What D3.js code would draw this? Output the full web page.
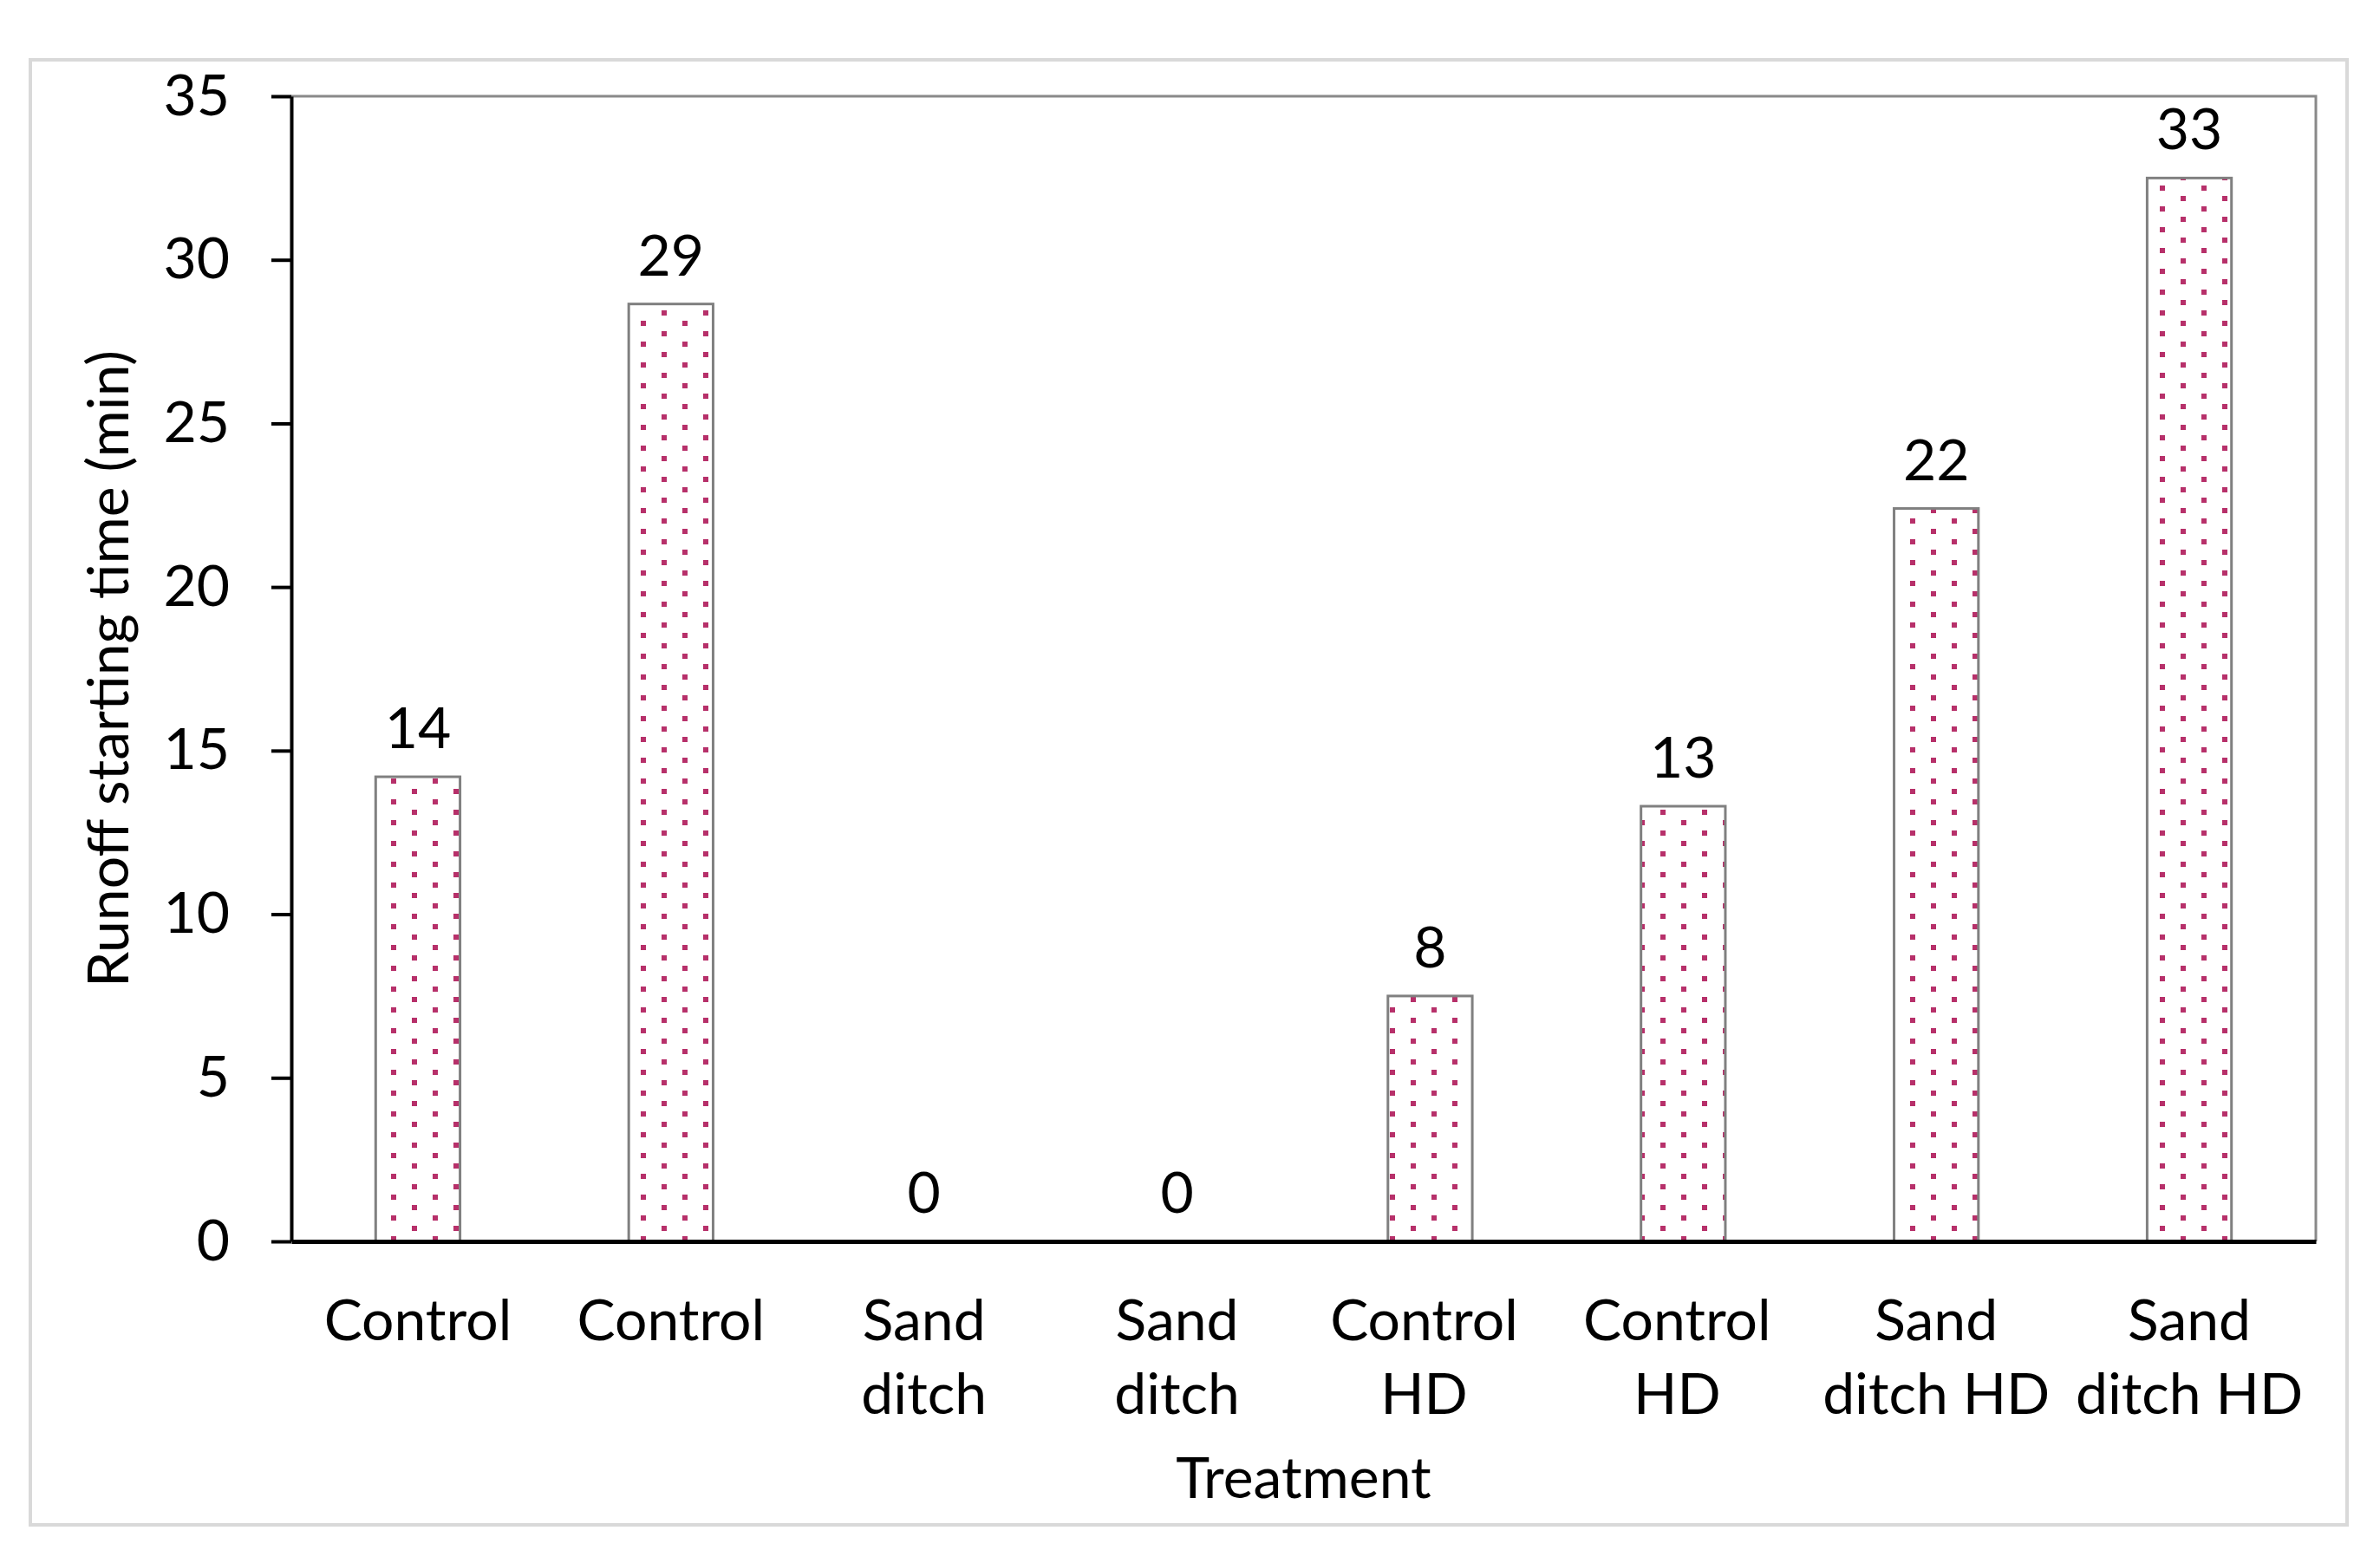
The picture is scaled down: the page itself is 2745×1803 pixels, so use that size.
<!DOCTYPE html>
<html>
<head>
<meta charset="utf-8">
<script src="https://cdn.jsdelivr.net/npm/d3@7"></script>
<style>
body { margin: 0; background: #fff; }
svg text { font-family: Lato, "Open Sans", sans-serif; fill: #000; }
</style>
</head>
<body>
<svg id="chart" width="2745" height="1803"></svg>
<script>
// ---- data ----
const categoryLines = [
  ["Control"], ["Control"], ["Sand", "ditch"], ["Sand", "ditch"],
  ["Control", "HD"], ["Control", "HD"], ["Sand", "ditch HD"], ["Sand", "ditch HD"]
];
const values = [14.2, 28.65, 0, 0, 7.5, 13.3, 22.4, 32.5];
const valueLabels = ["14", "29", "0", "0", "8", "13", "22", "33"];
const yTicks = [0, 5, 10, 15, 20, 25, 30, 35];
const yTitle = "Runoff starting time (min)";
const xTitle = "Treatment";

// ---- layout ----
const W = 2745, H = 1803;
const plot = { left: 336, right: 2671, top: 111, bottom: 1432 };
const fontSize = 66;

const svg = d3.select("#chart");

// outer frame
svg.append("rect")
  .attr("x", 35).attr("y", 69).attr("width", 2672).attr("height", 1690)
  .attr("fill", "#fff").attr("stroke", "#d9d9d9").attr("stroke-width", 4);

// pattern
const defs = svg.append("defs");
const pat = defs.append("pattern")
  .attr("id", "dots").attr("patternUnits", "userSpaceOnUse")
  .attr("width", 48).attr("height", 24)
  .attr("x", 19).attr("y", 10);
pat.append("rect").attr("width", 48).attr("height", 24).attr("fill", "#fff");
pat.append("rect").attr("x", 0).attr("y", 0).attr("width", 6).attr("height", 6).attr("fill", "#b7306a");
pat.append("rect").attr("x", 24).attr("y", 12).attr("width", 6).attr("height", 6).attr("fill", "#b7306a");

const idx = d3.range(values.length);
const x = d3.scaleBand().domain(idx).range([plot.left, plot.right]).paddingInner(2/3).paddingOuter(1/3);
const y = d3.scaleLinear().domain([0, 35]).range([plot.bottom, plot.top]);

// plot area border (top/right gray)
svg.append("path")
  .attr("d", `M${plot.left},${plot.top}H${plot.right}V${plot.bottom}`)
  .attr("fill", "none").attr("stroke", "#898989").attr("stroke-width", 3);

// bars
svg.append("g").selectAll("rect").data(idx.filter(i => values[i] > 0)).join("rect")
  .attr("x", i => x(i))
  .attr("y", i => y(values[i]))
  .attr("width", x.bandwidth())
  .attr("height", i => y(0) - y(values[i]))
  .attr("fill", "url(#dots)")
  .attr("stroke", "#808080").attr("stroke-width", 3);

// value labels
svg.append("g").selectAll("text").data(idx).join("text")
  .attr("x", i => x(i) + x.bandwidth() / 2)
  .attr("y", i => y(values[i]) - 33)
  .attr("text-anchor", "middle")
  .attr("font-size", fontSize)
  .text(i => valueLabels[i]);

// y axis
const yAxis = svg.append("g")
  .attr("transform", `translate(${plot.left},0)`)
  .call(d3.axisLeft(y).tickValues(yTicks).tickSize(23).tickPadding(48).tickSizeOuter(0));
yAxis.select(".domain").attr("stroke", "#000").attr("stroke-width", 4);
yAxis.selectAll(".tick line").attr("stroke", "#000").attr("stroke-width", 4);
yAxis.selectAll(".tick text").attr("font-size", fontSize).attr("font-family", "Lato, 'Open Sans', sans-serif").attr("fill", "#000");

// x axis baseline
const xAxis = svg.append("g")
  .attr("transform", `translate(0,${plot.bottom})`)
  .call(d3.axisBottom(x).tickSize(0).tickFormat(""));
xAxis.select(".domain").attr("stroke", "#000").attr("stroke-width", 5);

// x tick labels (multi-line)
const xl = svg.append("g").selectAll("text").data(idx).join("text")
  .attr("text-anchor", "middle")
  .attr("font-size", fontSize);
xl.each(function(i) {
  const t = d3.select(this);
  categoryLines[i].forEach((line, k) => {
    t.append("tspan")
      .attr("x", x(i) + x.bandwidth() / 2 - (categoryLines[i][0] === "Control" && categoryLines[i].length > 1 ? 7 : 0))
      .attr("y", 1546 + k * 85)
      .text(line);
  });
});

// axis titles
svg.append("text")
  .attr("transform", `translate(148,${(plot.top + plot.bottom) / 2}) rotate(-90)`)
  .attr("text-anchor", "middle")
  .attr("font-size", fontSize)
  .text(yTitle);

svg.append("text")
  .attr("x", (plot.left + plot.right) / 2)
  .attr("y", 1728)
  .attr("text-anchor", "middle")
  .attr("font-size", fontSize)
  .text(xTitle);
</script>
</body>
</html>
